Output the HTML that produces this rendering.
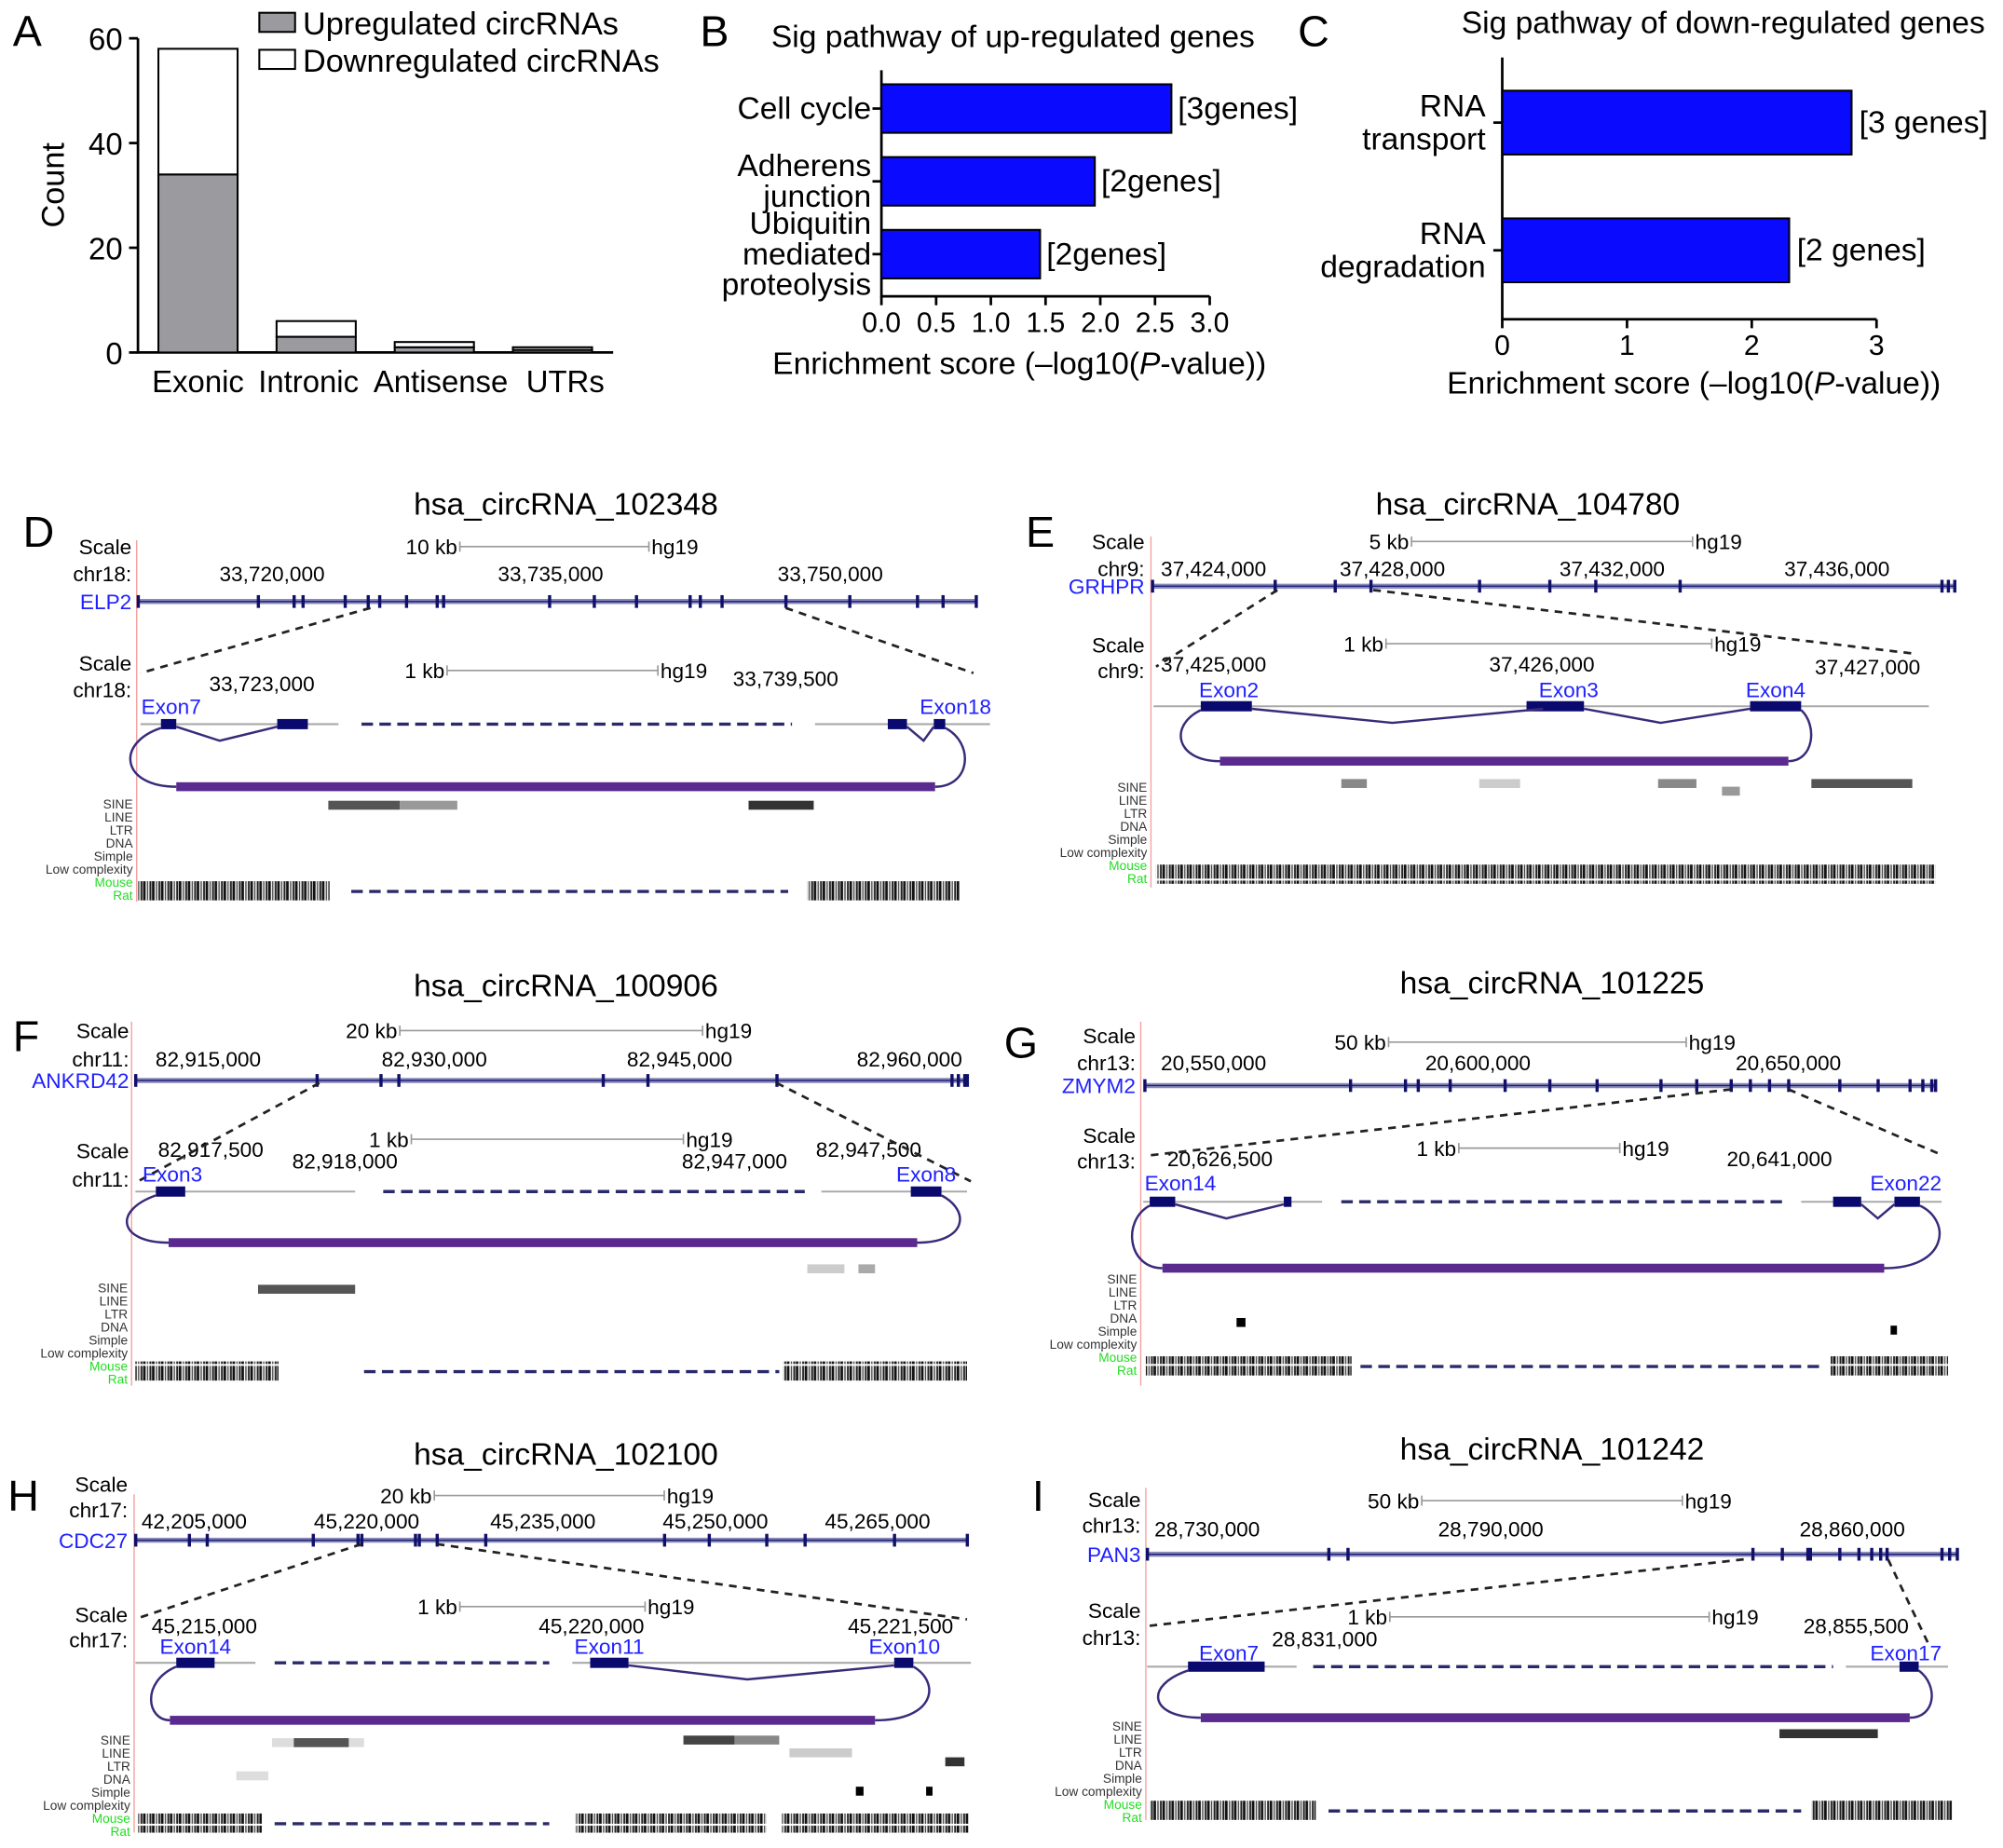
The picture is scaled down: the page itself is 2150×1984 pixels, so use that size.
<!DOCTYPE html>
<html><head><meta charset="utf-8"><style>
html,body{margin:0;padding:0;background:#fff;}
svg{display:block;font-family:"Liberation Sans",Arial,sans-serif;}
</style></head><body>
<svg id="fig" width="2150" height="1984" viewBox="0 0 1568 1447" preserveAspectRatio="none" xmlns="http://www.w3.org/2000/svg">
<defs>
<pattern id="cons" width="7" height="20" patternUnits="userSpaceOnUse">
<rect x="0" y="0" width="2" height="20" fill="#111"/><rect x="3" y="0" width="1" height="20" fill="#444"/><rect x="5" y="0" width="1.5" height="20" fill="#222"/>
<rect x="0" y="8" width="7" height="1.5" fill="#fff"/>
</pattern>
</defs>
</svg>
<script>
const NS='http://www.w3.org/2000/svg';
const svg=document.getElementById('fig');
function mk(tag,attrs,parent){const e=document.createElementNS(NS,tag);for(const k in attrs)e.setAttribute(k,attrs[k]);(parent||svg).appendChild(e);return e;}
function tx(x,y,s,size,anchor,fill,parent){const e=mk('text',{x:x,y:y,'font-size':size,'text-anchor':anchor||'start',fill:fill||'#000'},parent);e.textContent=s;return e;}

/* ---------- Panel A data ---------- */
const aCats=['Exonic','Intronic','Antisense','UTRs'];
const aUp=[34,3,1,0.5];
const aDown=[24,3,1,0.5];
const aTicks=[0,20,40,60];
/* ---------- Panel B data ---------- */
const bCats=[['Cell cycle'],['Adherens','junction'],['Ubiquitin','mediated','proteolysis']];
const bVals=[2.65,1.95,1.45];
const bGenes=['[3genes]','[2genes]','[2genes]'];
const bTicks=['0.0','0.5','1.0','1.5','2.0','2.5','3.0'];
/* ---------- Panel C data ---------- */
const cCats=[['RNA','transport'],['RNA','degradation']];
const cVals=[2.8,2.3];
const cGenes=['[3 genes]','[2 genes]'];
const cTicks=['0','1','2','3'];

/* Panel A */
const gA=mk('g',{});


const yA=v=>276-v*(246/60);
const xA=i=>155+i*92.5;
let t=tx(10,36,'A',34,'start','#000',gA);


let ax=mk('path',{d:'M108,30 V276 H480',stroke:'#000','stroke-width':2,fill:'none'},gA);


aTicks.forEach(v=>{
  const tk=mk('line',{x1:101,x2:108,y1:yA(v),y2:yA(v),stroke:'#000','stroke-width':2},gA);
  
  
  const tl=tx(96,yA(v)+9,String(v),24,'end','#000',gA);
  
  
});
t=tx(0,0,'Count',25,'middle','#000',gA);t.setAttribute('transform','translate(50,145) rotate(-90)');


aCats.forEach((c,i)=>{
  const up=mk('rect',{x:xA(i)-31,y:yA(aUp[i]),width:62,height:yA(0)-yA(aUp[i]),fill:'#9b9b9f',stroke:'#000','stroke-width':1.5},gA);
  
  
  const dn=mk('rect',{x:xA(i)-31,y:yA(aUp[i]+aDown[i]),width:62,height:yA(aUp[i])-yA(aUp[i]+aDown[i]),fill:'#fff',stroke:'#000','stroke-width':1.5},gA);
  
  
  const cl=tx(xA(i)+(i==3?10:i==2?5:0)-(i==1?6:0),307,c,24,'middle','#000',gA);
  
  
});
let lg=mk('rect',{x:203,y:10,width:28,height:15,fill:'#9b9b9f',stroke:'#000','stroke-width':1.5},gA);


t=tx(237,27,'Upregulated circRNAs',25,'start','#000',gA);


lg=mk('rect',{x:203,y:39,width:28,height:15,fill:'#fff',stroke:'#000','stroke-width':1.5},gA);


t=tx(237,56,'Downregulated circRNAs',25,'start','#000',gA);



/* Panel B */
const gB=mk('g',{});


const xB=v=>690+v*(257/3);
t=tx(548,36,'B',34,'start','#000',gB);


t=tx(793,37,'Sig pathway of up-regulated genes',24.5,'middle','#000',gB);


ax=mk('path',{d:'M690,55 V232 H947',stroke:'#000','stroke-width':2,fill:'none'},gB);


bTicks.forEach((s,i)=>{
  const v=i*0.5;
  const tk=mk('line',{x1:xB(v),x2:xB(v),y1:232,y2:239,stroke:'#000','stroke-width':2},gB);
  
  
  const tl=tx(xB(v),260,s,22,'middle','#000',gB);
  
  
});
t=tx(798,293,'',24.5,'middle','#000',gB);
t.innerHTML='Enrichment score (\u2013log10(<tspan font-style="italic">P</tspan>-value))';


const bCy=[85,142,199];
bCats.forEach((lines,i)=>{
  const b=mk('rect',{x:690,y:bCy[i]-19,width:xB(bVals[i])-690,height:38,fill:'#0a0aff',stroke:'#000','stroke-width':1.5},gB);
  
  
  const tk=mk('line',{x1:683,x2:690,y1:bCy[i],y2:bCy[i],stroke:'#000','stroke-width':2},gB);
  
  
  const gl=tx(xB(bVals[i])+5,bCy[i]+8,bGenes[i],24.5,'start','#000',gB);
  
  
  const n=lines.length;
  lines.forEach((ln,j)=>{
    const yy=bCy[i]+8+(j-(n-1)/2)*24;
    const cl=tx(682,yy,ln,24.5,'end','#000',gB);
    
    
  });
});

/* Panel C */
const gC=mk('g',{});


const xC=v=>1176+v*(293/3);
t=tx(1016,36,'C',34,'start','#000',gC);


t=tx(1349,26,'Sig pathway of down-regulated genes',24.5,'middle','#000',gC);


ax=mk('path',{d:'M1176,45 V250 H1469',stroke:'#000','stroke-width':2,fill:'none'},gC);


cTicks.forEach((s,i)=>{
  const tk=mk('line',{x1:xC(i),x2:xC(i),y1:250,y2:257,stroke:'#000','stroke-width':2},gC);
  
  
  const tl=tx(xC(i),278,s,22,'middle','#000',gC);
  
  
});
t=tx(1326,308,'',24.5,'middle','#000',gC);
t.innerHTML='Enrichment score (\u2013log10(<tspan font-style="italic">P</tspan>-value))';


const cCy=[96,196];
cCats.forEach((lines,i)=>{
  const b=mk('rect',{x:1176,y:cCy[i]-25,width:xC(cVals[i])-1176,height:50,fill:'#0a0aff',stroke:'#000','stroke-width':1.5},gC);
  
  
  const tk=mk('line',{x1:1169,x2:1176,y1:cCy[i],y2:cCy[i],stroke:'#000','stroke-width':2},gC);
  
  
  const gl=tx(xC(cVals[i])+6,cCy[i]+8,cGenes[i],24.5,'start','#000',gC);
  
  
  lines.forEach((ln,j)=>{
    const cl=tx(1163,cCy[i]-5+j*26,ln,24.5,'end','#000',gC);
    
    
  });
});

/* ---------- Genome browser panels ---------- */
const panels=[
{L:'D',lx:18,ly:428,title:'hsa_circRNA_102348',tx:443,ty:403,red:107,r1:423,r2:706,lab:103,
 s1:434,c1:455,chr:'chr18:',kb:'10 kb',kb1:360,kb2:508,kby:434,co:[[213,455,'33,720,000'],[431,455,'33,735,000'],[650,455,'33,750,000']],
 gy:471,gx1:108,gx2:764,gene:'ELP2',tk:[202,230,237,270,288,297,318,342,347,430,465,498,540,548,565,615,665,718,738],
 z:[[290,476,110,527],[615,476,762,527]],s2:525,c2:546,kbb:'1 kb',kbb1:350,kbb2:515,kbby:531,co2:[[205,541,'33,723,000'],[615,537,'33,739,500']],
 ex:[[134,559,'Exon7'],[748,559,'Exon18']],ly2:567,sol:[[110,265],[638,775]],dash:[[283,620]],bl:[[126,138],[217,241],[695,710],[731,740]],
 vs:[[138,172,217],[710,723,731]],bar:[138,732,616],arcL:[126,100],arcR:[740,755],tr:633,
 gb:[[257,313,627,'#555'],[313,358,627,'#999'],[586,637,627,'#333']],cy:690,cr:[[108,258],[632,751]],cd:[275,617]},
{L:'E',lx:803,ly:428,title:'hsa_circRNA_104780',tx:1196,ty:403,red:901,r1:420,r2:695,lab:896,
 s1:430,c1:451,chr:'chr9:',kb:'5 kb',kb1:1105,kb2:1325,kby:430,co:[[950,451,'37,424,000'],[1090,451,'37,428,000'],[1262,451,'37,432,000'],[1438,451,'37,436,000']],
 gy:459,gx1:902,gx2:1530,gene:'GRHPR',tk:[998,1045,1073,1158,1213,1249,1315,1520,1525],
 z:[[1000,462,905,522],[1075,462,1500,512]],s2:511,c2:531,kbb:'1 kb',kbb1:1085,kbb2:1340,kbby:510,co2:[[950,526,'37,425,000'],[1207,526,'37,426,000'],[1462,528,'37,427,000']],
 ex:[[962,546,'Exon2'],[1228,546,'Exon3'],[1390,546,'Exon4']],ly2:553,sol:[[903,1510]],dash:[],bl:[[940,980],[1195,1240],[1370,1410]],
 vs:[[980,1090,1208],[1240,1300,1370]],bar:[955,1400,596],arcL:[940,925],arcR:[1410,1415],tr:620,
 gb:[[1050,1070,610,'#888'],[1158,1190,610,'#ccc'],[1298,1328,610,'#888'],[1348,1362,616,'#999'],[1418,1497,610,'#555']],cy:677,cr:[[905,1515]],cd:null},
{L:'F',lx:10,ly:823,title:'hsa_circRNA_100906',tx:443,ty:780,red:103,r1:800,r2:1085,lab:101,
 s1:813,c1:835,chr:'chr11:',kb:'20 kb',kb1:313,kb2:550,kby:813,co:[[163,835,'82,915,000'],[340,835,'82,930,000'],[532,835,'82,945,000'],[712,835,'82,960,000']],
 gy:846,gx1:106,gx2:757,gene:'ANKRD42',tk:[248,298,312,472,507,608,745,750,755],
 z:[[250,848,108,925],[608,848,760,925]],s2:907,c2:929,kbb:'1 kb',kbb1:322,kbb2:535,kbby:898,co2:[[165,906,'82,917,500'],[270,915,'82,918,000'],[575,915,'82,947,000'],[680,906,'82,947,500']],
 ex:[[135,925,'Exon3'],[725,925,'Exon8']],ly2:933,sol:[[106,278],[643,757]],dash:[[300,630]],bl:[[122,145],[713,737]],
 vs:[],bar:[132,718,973],arcL:[122,98],arcR:[737,752],tr:1012,
 gb:[[202,278,1006,'#555'],[632,661,990,'#ccc'],[672,685,990,'#aaa']],cy:1066,cr:[[106,218],[613,757]],cd:[285,610]},
{L:'G',lx:786,ly:828,title:'hsa_circRNA_101225',tx:1215,ty:778,red:893,r1:800,r2:1085,lab:889,
 s1:817,c1:838,chr:'chr13:',kb:'50 kb',kb1:1087,kb2:1320,kby:822,co:[[950,838,'20,550,000'],[1157,838,'20,600,000'],[1400,838,'20,650,000']],
 gy:850,gx1:896,gx2:1515,gene:'ZMYM2',tk:[1057,1100,1110,1135,1178,1213,1250,1300,1328,1355,1370,1385,1400,1440,1470,1495,1505,1512],
 z:[[1355,853,897,905],[1400,853,1517,903]],s2:895,c2:915,kbb:'1 kb',kbb1:1142,kbb2:1268,kbby:905,co2:[[955,913,'20,626,500'],[1393,913,'20,641,000']],
 ex:[[924,932,'Exon14'],[1492,932,'Exon22']],ly2:941,sol:[[895,1035],[1410,1520]],dash:[[1050,1395]],bl:[[900,920],[1005,1011],[1435,1457],[1483,1503]],
 vs:[[920,960,1005],[1457,1470,1483]],bar:[910,1475,993],arcL:[900,888],arcR:[1503,1520],tr:1005,
 gb:[[968,975,1032,'#000'],[1480,1485,1038,'#000']],cy:1062,cr:[[897,1058],[1433,1525]],cd:[1065,1425]},
{L:'H',lx:6,ly:1183,title:'hsa_circRNA_102100',tx:443,ty:1147,red:105,r1:1170,r2:1435,lab:100,
 s1:1168,c1:1188,chr:'chr17:',kb:'20 kb',kb1:340,kb2:520,kby:1177,co:[[152,1197,'42,205,000'],[287,1197,'45,220,000'],[425,1197,'45,235,000'],[560,1197,'45,250,000'],[687,1197,'45,265,000']],
 gy:1206,gx1:106,gx2:757,gene:'CDC27',tk:[148,162,245,280,283,325,328,342,380,520,555,600,630,700],
 z:[[283,1209,108,1267],[342,1209,757,1268]],s2:1270,c2:1290,kbb:'1 kb',kbb1:360,kbb2:505,kbby:1264,co2:[[160,1279,'45,215,000'],[463,1279,'45,220,000'],[705,1279,'45,221,500']],
 ex:[[153,1295,'Exon14'],[477,1295,'Exon11'],[708,1295,'Exon10']],ly2:1302,sol:[[106,200],[448,760]],dash:[[215,430]],bl:[[138,168],[462,492],[700,715]],
 vs:[[492,585,700]],bar:[133,685,1347],arcL:[138,120],arcR:[715,728],tr:1366,
 gb:[[213,285,1361,'#ddd'],[230,273,1361,'#555'],[535,575,1359,'#444'],[575,610,1359,'#888'],[618,667,1369,'#ccc'],[185,210,1387,'#ddd'],[740,755,1376,'#333'],[670,676,1399,'#000'],[725,730,1399,'#000']],cy:1420,cr:[[108,205],[450,600],[612,758]],cd:[215,430]},
{L:'I',lx:808,ly:1183,title:'hsa_circRNA_101242',tx:1215,ty:1143,red:897,r1:1165,r2:1425,lab:893,
 s1:1180,c1:1200,chr:'chr13:',kb:'50 kb',kb1:1113,kb2:1317,kby:1181,co:[[945,1203,'28,730,000'],[1167,1203,'28,790,000'],[1450,1203,'28,860,000']],
 gy:1217,gx1:898,gx2:1532,gene:'PAN3',tk:[1040,1055,1372,1395,1415,1417,1440,1455,1465,1472,1477,1520,1526],
 z:[[1365,1221,900,1273],[1478,1221,1510,1288]],s2:1267,c2:1288,kbb:'1 kb',kbb1:1088,kbb2:1338,kbby:1272,co2:[[1037,1289,'28,831,000'],[1453,1279,'28,855,500']],
 ex:[[962,1300,'Exon7'],[1492,1300,'Exon17']],ly2:1305,sol:[[898,1015],[1445,1525]],dash:[[1028,1435]],bl:[[930,990],[1487,1502]],
 vs:[],bar:[940,1495,1345],arcL:[930,905],arcR:[1502,1510],tr:1355,
 gb:[[1393,1470,1354,'#333']],cy:1410,cr:[[900,1030],[1418,1528]],cd:[1040,1410]}
];
const trackNames=['SINE','LINE','LTR','DNA','Simple','Low complexity','Mouse','Rat'];

panels.forEach(p=>{
  const g=mk('g',{});
  
  
  let e=tx(p.lx,p.ly,p.L,34,'start','#000',g);
  
  
  e=tx(p.tx,p.ty,p.title,24.5,'middle','#000',g);
  
  
  e=mk('line',{x1:p.red,x2:p.red,y1:p.r1,y2:p.r2,stroke:'#f4a0a0','stroke-width':1},g);
  
  
  [[p.s1,'Scale'],[p.c1,p.chr],[p.s2,'Scale'],[p.c2,p.chr]].forEach(a=>{
    const s=tx(p.lab,a[0],a[1],16.5,'end','#000',g);
    
    
  });
  [[p.kb,p.kb1,p.kb2,p.kby],[p.kbb,p.kbb1,p.kbb2,p.kbby]].forEach(k=>{
    const sb=mk('path',{d:'M'+k[1]+','+(k[3]-10)+' v8 M'+k[1]+','+(k[3]-6)+' H'+k[2]+' M'+k[2]+','+(k[3]-10)+' v8',stroke:'#999','stroke-width':1.2,fill:'none'},g);
    
    
    const s1=tx(k[1]-2,k[3],k[0],16.5,'end','#000',g);
    
    
    const s2=tx(k[2]+2,k[3],'hg19',16.5,'start','#000',g);
    
    
  });
  p.co.concat(p.co2).forEach(c=>{
    const s=tx(c[0],c[1],c[2],16.5,'middle','#000',g);
    
    
  });
  e=mk('line',{x1:p.gx1,x2:p.gx2,y1:p.gy,y2:p.gy,stroke:'#8a8ab8','stroke-width':4},g);
  
  
  e=mk('line',{x1:p.gx1,x2:p.gx2,y1:p.gy,y2:p.gy,stroke:'#1a1a7a','stroke-width':1},g);
  
  
  e=tx(p.lab,p.gy+6,p.gene,16.5,'end','#2020ff',g);
  
  
  p.tk.concat([p.gx1,p.gx2]).forEach(x=>{
    const k=mk('rect',{x:x-1,y:p.gy-5,width:2.5,height:10,fill:'#10106a'},g);
    
    
  });
  p.z.forEach(z=>{
    const l=mk('line',{x1:z[0],y1:z[1],x2:z[2],y2:z[3],stroke:'#222','stroke-width':2,'stroke-dasharray':'6,5'},g);
    
    
  });
  p.ex.forEach(x=>{
    const s=tx(x[0],x[1],x[2],16.5,'middle','#2020ff',g);
    
    
  });
  p.sol.forEach(s=>{
    const l=mk('line',{x1:s[0],x2:s[1],y1:p.ly2,y2:p.ly2,stroke:'#aaa','stroke-width':1.5},g);
    
    
  });
  p.dash.forEach(s=>{
    const l=mk('line',{x1:s[0],x2:s[1],y1:p.ly2,y2:p.ly2,stroke:'#2a2a6a','stroke-width':2.5,'stroke-dasharray':'9,5'},g);
    
    
  });
  p.bl.forEach(b=>{
    const r=mk('rect',{x:b[0],y:p.ly2-4,width:b[1]-b[0],height:8,fill:'#0a0a6e'},g);
    
    
  });
  p.vs.forEach(v=>{
    const l=mk('path',{d:'M'+v[0]+','+(p.ly2+2)+' L'+v[1]+','+(p.ly2+13)+' L'+v[2]+','+(p.ly2+2),stroke:'#3a2a7a','stroke-width':1.8,fill:'none'},g);
    
    
  });
  const by=p.bar[2];
  e=mk('path',{d:'M'+p.arcL[0]+','+(p.ly2+3)+' C'+(p.arcL[1]-10)+','+(p.ly2+15)+' '+(p.arcL[1]-5)+','+by+' '+p.bar[0]+','+by,stroke:'#3a2a7a','stroke-width':1.8,fill:'none'},g);
  
  
  e=mk('path',{d:'M'+p.arcR[0]+','+(p.ly2+3)+' C'+(p.arcR[1]+8)+','+(p.ly2+15)+' '+(p.arcR[1]+5)+','+by+' '+p.bar[1]+','+by,stroke:'#3a2a7a','stroke-width':1.8,fill:'none'},g);
  
  
  e=mk('rect',{x:p.bar[0],y:by-3.5,width:p.bar[1]-p.bar[0],height:7,fill:'#5a2a8e'},g);
  
  
  trackNames.forEach((n,i)=>{
    const s=tx(p.red-3,p.tr+i*10.2,n,10,'end',i>=6?'#22dd22':'#333',g);
    
    
  });
  p.gb.forEach(b=>{
    const r=mk('rect',{x:b[0],y:b[2],width:b[1]-b[0],height:7,fill:b[3]},g);
    
    
  });
  p.cr.forEach(c=>{
    const r=mk('rect',{x:c[0],y:p.cy,width:c[1]-c[0],height:15,fill:'url(#cons)'},g);
    
    
  });
  if(p.cd){
    const l=mk('line',{x1:p.cd[0],x2:p.cd[1],y1:p.cy+8,y2:p.cy+8,stroke:'#2a2a6a','stroke-width':2.5,'stroke-dasharray':'9,5'},g);
    
    
  }
});
</script>
</body></html>
